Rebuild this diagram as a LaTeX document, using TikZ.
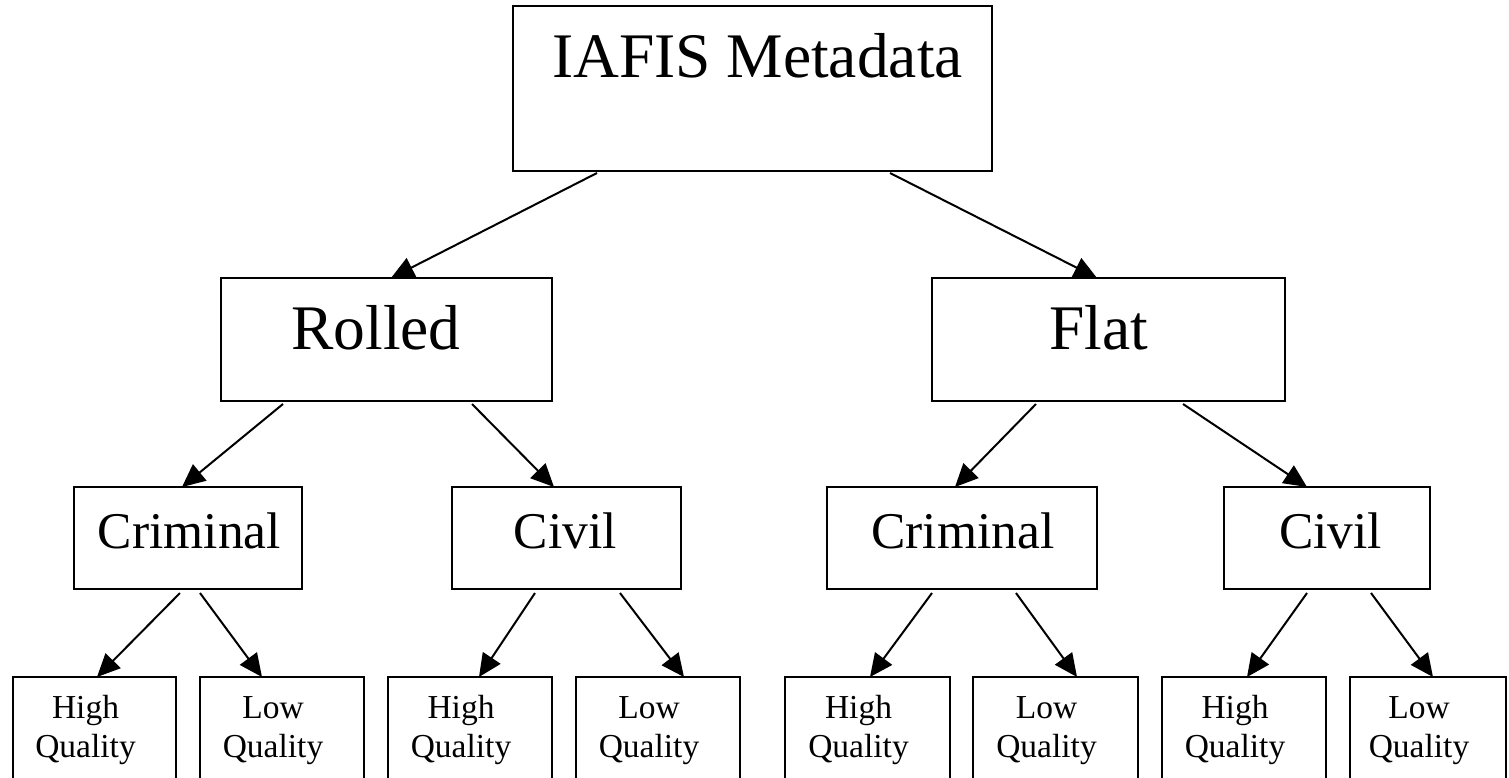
\documentclass[tikz,border=0pt]{standalone}
\usepackage{fontspec}
\setmainfont{Liberation Serif}
\usetikzlibrary{arrows.meta}
\tikzset{
  box/.style={draw, line width=2.3pt, inner sep=0pt, outer sep=0pt},
  arr/.style={-{Triangle[length=23pt,width=21pt]}, line width=2pt},
  lbl/.style={anchor=base, inner sep=0pt, outer sep=0pt},
  big/.style={lbl, font=\fontsize{63.5}{70}\selectfont},
  mid/.style={lbl, font=\fontsize{51.5}{58}\selectfont},
  small/.style={lbl, font=\fontsize{33.5}{38}\selectfont},
}
\begin{document}
\begin{tikzpicture}[x=1pt,y=-1pt]
\clip (0,0) rectangle (1509,777);
\fill[white] (0,0) rectangle (1509,777);
% boxes
\node[box, minimum width=479pt, minimum height=165pt] (iafis) at (752.5,88.5) {};
\node[box, minimum width=331pt, minimum height=123pt] (rolled) at (386.5,339.5) {};
\node[box, minimum width=353pt, minimum height=123pt] (flat) at (1108.5,339.5) {};
\node[box, minimum width=228pt, minimum height=102pt] (crimL) at (188,538) {};
\node[box, minimum width=229pt, minimum height=102pt] (civL) at (566.5,538) {};
\node[box, minimum width=270pt, minimum height=102pt] (crimR) at (962,538) {};
\node[box, minimum width=206pt, minimum height=102pt] (civR) at (1327,538) {};
\node[box, minimum width=163pt, minimum height=123pt] (l1) at (94.5,738.5) {};
\node[box, minimum width=164pt, minimum height=123pt] (l2) at (282,738.5) {};
\node[box, minimum width=164pt, minimum height=123pt] (l3) at (470,738.5) {};
\node[box, minimum width=164pt, minimum height=123pt] (l4) at (658,738.5) {};
\node[box, minimum width=165pt, minimum height=123pt] (l5) at (867.5,738.5) {};
\node[box, minimum width=165pt, minimum height=123pt] (l6) at (1055.5,738.5) {};
\node[box, minimum width=164pt, minimum height=123pt] (l7) at (1244,738.5) {};
\node[box, minimum width=156pt, minimum height=123pt] (l8) at (1428,738.5) {};
% labels
\node[big] (tiafis) at (757.5,77) {IAFIS Metadata};
\node[big] (trolled) at (376,349) {Rolled};
\node[big] (tflat) at (1099,349) {Flat};
\node[mid] (tcrimL) at (189.5,548) {Criminal};
\node[mid] (tcivL) at (565.5,548) {Civil};
\node[mid] (tcrimR) at (963,548) {Criminal};
\node[mid] (tcivR) at (1330.5,548) {Civil};
\foreach \n/\x/\w in {a/85.5/High, b/273/Low, c/461/High, d/649/Low, e/858.5/High, f/1046.5/Low, g/1235/High, h/1419/Low}{
  \node[small] (w\n) at (\x,718) {\w};
  \node[small] (q\n) at (\x,757) {Quality};
}
% connectors
\draw[arr] ([shift={(-155.5,2)}]iafis.south) -- ([shift={(4.5,0)}]rolled.north);
\draw[arr] ([shift={(137.5,2)}]iafis.south) -- ([shift={(-11.5,0)}]flat.north);
\draw[arr] ([shift={(-103.5,3)}]rolled.south) -- ([shift={(-6,0)}]crimL.north);
\draw[arr] ([shift={(85.5,3)}]rolled.south) -- ([shift={(-12.5,0)}]civL.north);
\draw[arr] ([shift={(-72.5,3)}]flat.south) -- ([shift={(-7,0)}]crimR.north);
\draw[arr] ([shift={(74.5,3)}]flat.south) -- ([shift={(-20,0)}]civR.north);
\draw[arr] ([shift={(-8,4)}]crimL.south) -- ([shift={(2.5,0)}]l1.north);
\draw[arr] ([shift={(12,4)}]crimL.south) -- ([shift={(-20,0)}]l2.north);
\draw[arr] ([shift={(-31.5,4)}]civL.south) -- ([shift={(9,0)}]l3.north);
\draw[arr] ([shift={(53.5,4)}]civL.south) -- ([shift={(26,0)}]l4.north);
\draw[arr] ([shift={(-30,4)}]crimR.south) -- ([shift={(2.5,0)}]l5.north);
\draw[arr] ([shift={(54,4)}]crimR.south) -- ([shift={(21.5,0)}]l6.north);
\draw[arr] ([shift={(-20,4)}]civR.south) -- ([shift={(3,0)}]l7.north);
\draw[arr] ([shift={(44,4)}]civR.south) -- ([shift={(5,0)}]l8.north);
\end{tikzpicture}
\end{document}
